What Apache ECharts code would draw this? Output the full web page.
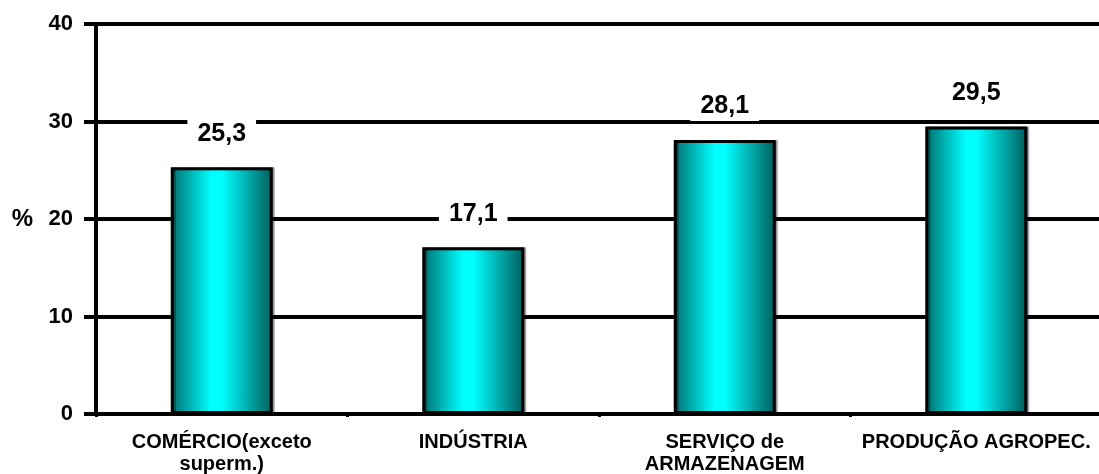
<!DOCTYPE html>
<html>
<head>
<meta charset="utf-8">
<script src="https://cdn.jsdelivr.net/npm/echarts@6/dist/echarts.min.js"></script>
<style>
  html, body { margin: 0; padding: 0; background: #fff; }
  #chart { width: 1099px; height: 474px; }
</style>
</head>
<body>
<div id="chart"></div>
<script>
var categories = ['COMÉRCIO(exceto\nsuperm.)', 'INDÚSTRIA', 'SERVIÇO de\nARMAZENAGEM', 'PRODUÇÃO AGROPEC.'];
var values = [25.3, 17.1, 28.1, 29.5];
var yTicks = { min: 0, max: 40, step: 10 };

var font = '"Liberation Sans", Arial, sans-serif';
var chart = echarts.init(document.getElementById('chart'));

var barFill = new echarts.graphic.LinearGradient(0, 0, 1, 0, [
  { offset: 0, color: '#006e6e' },
  { offset: 0.4, color: '#00ffff' },
  { offset: 0.5, color: '#00ffff' },
  { offset: 1, color: '#005c5c' }
]);

var option = {
  backgroundColor: '#ffffff',
  animation: false,
  grid: { left: 96, right: -3, top: 24, bottom: 60, containLabel: false, outerBoundsMode: 'none' },
  xAxis: {
    type: 'category',
    data: categories,
    axisLine: { lineStyle: { color: '#000', width: 4 } },
    axisTick: { show: true, length: 3, lineStyle: { color: '#000', width: 3 } },
    axisLabel: {
      interval: 0,
      margin: 17,
      color: '#000',
      fontFamily: font,
      fontWeight: 'bold',
      fontSize: 20,
      lineHeight: 22
    }
  },
  yAxis: {
    type: 'value',
    min: yTicks.min,
    max: yTicks.max,
    interval: yTicks.step,
    name: '%',
    nameLocation: 'middle',
    nameRotate: 0,
    nameGap: 63,
    nameTextStyle: { color: '#000', fontFamily: font, fontWeight: 'bold', fontSize: 24 },
    axisLine: { show: true, lineStyle: { color: '#000', width: 4 } },
    axisTick: { show: true, length: 12, lineStyle: { color: '#000', width: 4 } },
    axisLabel: { margin: 23, color: '#000', fontFamily: font, fontWeight: 'bold', fontSize: 22 },
    splitLine: { show: true, lineStyle: { color: '#000', width: 4 } }
  },
  series: [
    {
      type: 'bar',
      data: values,
      barWidth: 102,
      itemStyle: {
        color: barFill,
        borderColor: '#000',
        borderWidth: 3,
        shadowColor: 'rgba(0,0,0,0.35)',
        shadowOffsetX: 2,
        shadowOffsetY: 0,
        shadowBlur: 0
      },
      label: {
        show: true,
        position: 'top',
        distance: 19,
        color: '#000',
        fontFamily: font,
        fontWeight: 'bold',
        fontSize: 25,
        backgroundColor: '#fff',
        padding: [2, 10],
        formatter: function (p) { return String(p.value).replace('.', ','); }
      }
    }
  ]
};

chart.setOption(option);
</script>
</body>
</html>
